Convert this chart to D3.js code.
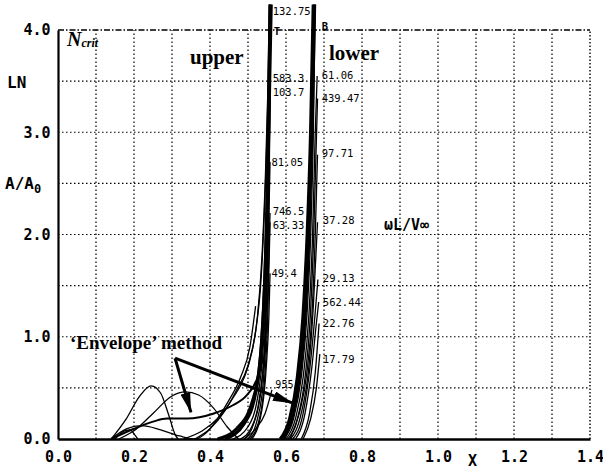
<!DOCTYPE html>
<html><head><meta charset="utf-8">
<script src="https://cdn.jsdelivr.net/npm/d3@7"></script>
<style>body{margin:0;background:#fff}text{fill:#000}</style></head>
<body><svg id="c" width="603" height="472"></svg>
<script>
// ---- data ----
const xTickValues = [0, 0.2, 0.4, 0.6, 0.8, 1.0, 1.2, 1.4];
const yTickValues = [0, 1, 2, 3, 4];
const xGridValues = [0.1, 0.2, 0.3, 0.4, 0.5, 0.6, 0.7, 0.8, 0.9, 1.0, 1.1, 1.2, 1.3];
const yGridValues = [0.5, 1, 1.5, 2, 2.5, 3, 3.5];

// upper-surface family (steep near x ~ 0.55)
const upperCurves = [
  [[0.42,0],[0.47,0.1],[0.51,0.35],[0.53,0.7],[0.540,1.2],[0.548,2.0],[0.554,3.0],[0.558,4.25]],
  [[0.44,0],[0.49,0.15],[0.52,0.45],[0.535,0.9],[0.545,1.6],[0.552,2.5],[0.557,3.5],[0.561,4.25]],
  [[0.46,0],[0.50,0.12],[0.525,0.4],[0.54,0.9],[0.55,1.7],[0.555,2.6],[0.558,3.51]],
  [[0.48,0],[0.51,0.12],[0.53,0.4],[0.543,0.9],[0.551,1.7],[0.556,2.6],[0.558,3.41]],
  [[0.49,0],[0.515,0.15],[0.535,0.5],[0.547,1.1],[0.554,2.0],[0.558,2.71]],
  [[0.50,0],[0.525,0.2],[0.54,0.55],[0.55,1.2],[0.555,1.8],[0.558,2.21]],
  [[0.505,0],[0.53,0.2],[0.543,0.55],[0.552,1.2],[0.558,2.12]],
  [[0.51,0],[0.535,0.25],[0.548,0.7],[0.555,1.2],[0.558,1.62]],
  [[0.33,0],[0.38,0.08],[0.42,0.2],[0.46,0.4],[0.49,0.6],[0.51,0.85],[0.525,1.2],[0.537,1.8],[0.546,2.6],[0.553,3.5],[0.557,4.25]],
  [[0.36,0],[0.40,0.1],[0.44,0.28],[0.47,0.48],[0.50,0.72],[0.52,1.05],[0.535,1.6],[0.545,2.4],[0.552,3.3],[0.556,4.25]]
];
const upperThick = [true, true, false, false, false, false, false, false, false, false];

// lower-surface family (steep near x ~ 0.67)
const lowerCurves = [
  [[0.585,0],[0.61,0.2],[0.63,0.6],[0.645,1.2],[0.656,2.0],[0.665,3.0],[0.672,4.25]],
  [[0.59,0],[0.615,0.2],[0.635,0.6],[0.65,1.2],[0.66,2.0],[0.668,3.0],[0.675,4.25]],
  [[0.595,0],[0.62,0.2],[0.64,0.6],[0.655,1.2],[0.665,2.0],[0.672,3.0],[0.677,4.25]],
  [[0.60,0],[0.625,0.2],[0.645,0.6],[0.66,1.2],[0.67,2.0],[0.677,3.0],[0.682,3.55]],
  [[0.605,0],[0.63,0.2],[0.65,0.6],[0.664,1.2],[0.673,2.0],[0.679,2.8],[0.683,3.33]],
  [[0.61,0],[0.635,0.25],[0.655,0.65],[0.668,1.2],[0.677,2.0],[0.683,2.78]],
  [[0.612,0],[0.64,0.25],[0.66,0.7],[0.672,1.3],[0.683,2.12]],
  [[0.618,0],[0.645,0.25],[0.663,0.7],[0.676,1.2],[0.684,1.56]],
  [[0.625,0],[0.65,0.25],[0.668,0.7],[0.679,1.1],[0.686,1.34]],
  [[0.64,0],[0.662,0.25],[0.677,0.65],[0.687,1.13]],
  [[0.645,0],[0.665,0.2],[0.68,0.5],[0.689,0.83]],
  [[0.49,0],[0.52,0.1],[0.545,0.25],[0.563,0.48]]
];
const lowerThick = [true, true, false, false, false, false, false, false, false, false, false, false];

// low-amplitude curves and envelope
const lowCurves = [
  [[0.14,0],[0.18,0.2],[0.215,0.42],[0.245,0.52],[0.27,0.45],[0.29,0.25],[0.31,0.03],[0.316,0]],
  [[0.16,0],[0.2,0.08],[0.25,0.25],[0.3,0.42],[0.335,0.46],[0.37,0.43],[0.41,0.3],[0.445,0.12],[0.475,0]],
  [[0.15,0],[0.175,0.08],[0.19,0.09],[0.2,0.05],[0.21,0]],
  [[0.14,0],[0.18,0.1],[0.22,0.13],[0.27,0.09],[0.32,0.03],[0.36,0],[0.39,0.06],[0.42,0.2],[0.45,0.38],[0.48,0.6],[0.505,0.9],[0.52,1.3]],
  [[0.14,0],[0.2,0.1],[0.25,0.17],[0.287,0.2],[0.34,0.2],[0.41,0.25],[0.46,0.33],[0.497,0.43],[0.523,0.58],[0.54,0.8]]
];

const upperLabels = [
  {t:"132.75", x:0.565, y:4.18}, {t:"T", x:0.568, y:3.99},
  {t:"583.3", x:0.565, y:3.53}, {t:"103.7", x:0.565, y:3.39},
  {t:"81.05", x:0.562, y:2.71}, {t:"746.5", x:0.565, y:2.23},
  {t:"63.33", x:0.565, y:2.09}, {t:"49.4", x:0.562, y:1.62},
  {t:"955", x:0.572, y:0.53}
];
const lowerLabels = [
  {t:"B", x:0.694, y:4.04}, {t:"61.06", x:0.694, y:3.56},
  {t:"439.47", x:0.694, y:3.33}, {t:"97.71", x:0.694, y:2.79},
  {t:"37.28", x:0.697, y:2.14}, {t:"29.13", x:0.697, y:1.57},
  {t:"562.44", x:0.697, y:1.34}, {t:"22.76", x:0.697, y:1.13},
  {t:"17.79", x:0.697, y:0.78}
];

const arrowStart = [0.308, 0.79];
const arrowTips = [[0.35, 0.26], [0.618, 0.35]];

// ---- drawing ----
const svg = d3.select("#c");
const x = d3.scaleLinear().domain([0, 1.4]).range([58, 590]);
const y = d3.scaleLinear().domain([0, 4]).range([439, 30]);

// grid
svg.append("g").selectAll("line").data(xGridValues).join("line")
  .attr("x1", d => x(d)).attr("x2", d => x(d)).attr("y1", y(0)).attr("y2", y(4))
  .attr("stroke", "#000").attr("stroke-width", 1.2).attr("stroke-dasharray", "1.5,2.5");
svg.append("line").attr("x1", x(1.4)).attr("x2", x(1.4)).attr("y1", y(0)).attr("y2", y(4))
  .attr("stroke", "#000").attr("stroke-width", 1.4).attr("stroke-dasharray", "1.5,2");
svg.append("g").selectAll("line").data(yGridValues).join("line")
  .attr("x1", x(0)).attr("x2", x(1.4)).attr("y1", d => y(d)).attr("y2", d => y(d))
  .attr("stroke", "#000").attr("stroke-width", 1.2).attr("stroke-dasharray", "1.5,2.5");
svg.append("line").attr("x1", x(0)).attr("x2", x(1.4)).attr("y1", y(4)).attr("y2", y(4))
  .attr("stroke", "#000").attr("stroke-width", 1.4).attr("stroke-dasharray", "6,2,1.5,2");

// axes
const mono = "DejaVu Sans Mono";
const xAxis = d3.axisBottom(x).tickValues(xTickValues).tickSize(0).tickFormat(d3.format(".1f"));
const gx = svg.append("g").attr("transform", `translate(0,${y(0)})`).call(xAxis);
gx.select(".domain").attr("stroke", "#000").attr("stroke-width", 2.5);
gx.selectAll("text").attr("dy", "1.35em").attr("font-family", mono).attr("font-weight", "bold").attr("font-size", 15).attr("fill", "#000");
const yAxis = d3.axisLeft(y).tickValues(yTickValues).tickSize(0).tickFormat(d3.format(".1f"));
const gy = svg.append("g").attr("transform", `translate(${x(0)},0)`).call(yAxis);
gy.select(".domain").attr("stroke", "#000").attr("stroke-width", 2.2);
gy.selectAll("text").attr("dx", "-0.3em").attr("font-family", mono).attr("font-weight", "bold").attr("font-size", 15).attr("fill", "#000");

svg.append("text").attr("x", 7).attr("y", 88).attr("font-family", mono).attr("font-weight", "bold").attr("font-size", 16).text("LN");
const aa = svg.append("text").attr("x", 5).attr("y", 189).attr("font-family", mono).attr("font-weight", "bold").attr("font-size", 16);
aa.append("tspan").text("A/A");
aa.append("tspan").attr("dy", 4).attr("font-size", 12).text("0");
svg.append("text").attr("x", 468).attr("y", 466).attr("font-family", mono).attr("font-weight", "bold").attr("font-size", 15).text("X");
svg.append("text").attr("x", 384).attr("y", 230).attr("font-family", mono).attr("font-weight", "bold").attr("font-size", 15).text("ωL/V∞");

// curves
const line = d3.line().x(d => x(d[0])).y(d => y(d[1])).curve(d3.curveMonotoneX);
const drawSet = (set, widthFn) => svg.append("g").selectAll("path").data(set).join("path")
  .attr("d", line).attr("fill", "none").attr("stroke", "#000")
  .attr("stroke-width", widthFn);
drawSet(lowCurves, (d, i) => i === 4 ? 2 : 1.3);
drawSet(upperCurves, (d, i) => upperThick[i] ? 3.2 : 1.3);
drawSet(lowerCurves, (d, i) => lowerThick[i] ? 3.4 : 1.3);

// curve labels
svg.append("g").selectAll("text").data(upperLabels.concat(lowerLabels)).join("text")
  .attr("x", d => x(d.x)).attr("y", d => y(d.y)).attr("dy", "0.35em")
  .attr("font-family", mono).attr("font-size", d => d.t === "955" ? 10 : 10.5)
  .attr("font-weight", d => (d.t === "T" || d.t === "B") ? "bold" : "normal").text(d => d.t);

// annotations
const serif = "Liberation Serif";
svg.append("text").attr("x", 190).attr("y", 64).attr("font-family", serif).attr("font-weight", "bold").attr("font-size", 21).text("upper");
svg.append("text").attr("x", 329).attr("y", 60).attr("font-family", serif).attr("font-weight", "bold").attr("font-size", 21).text("lower");
const nc = svg.append("text").attr("x", 67).attr("y", 46).attr("font-family", serif).attr("font-weight", "bold").attr("font-style", "italic").attr("font-size", 20);
nc.append("tspan").text("N");
nc.append("tspan").attr("dy", 1).attr("font-size", 12).text("crit");
svg.append("text").attr("x", 70).attr("y", 349).attr("font-family", serif).attr("font-weight", "bold").attr("font-size", 19).text("‘Envelope’ method");

svg.append("defs").append("marker").attr("id", "ah").attr("viewBox", "0 0 20 10")
  .attr("refX", 20).attr("refY", 5).attr("markerWidth", 20).attr("markerHeight", 10)
  .attr("markerUnits", "userSpaceOnUse").attr("orient", "auto")
  .append("path").attr("d", "M0,0 L20,5 L0,10 Z").attr("fill", "#000");
svg.append("g").selectAll("line").data(arrowTips).join("line")
  .attr("x1", x(arrowStart[0])).attr("y1", y(arrowStart[1]))
  .attr("x2", d => x(d[0])).attr("y2", d => y(d[1]))
  .attr("stroke", "#000").attr("stroke-width", 3).attr("marker-end", "url(#ah)");
</script></body></html>
